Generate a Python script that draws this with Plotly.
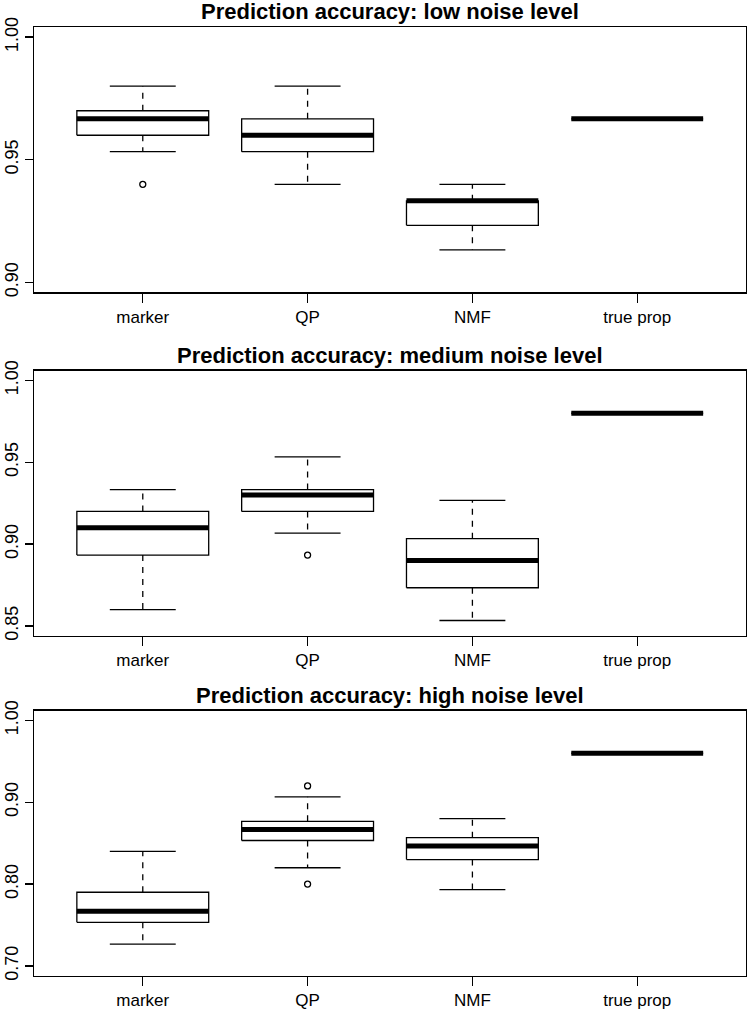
import plotly.graph_objects as go

categories = ["marker", "QP", "NMF", "true prop"]

titles = [
    "Prediction accuracy: low noise level",
    "Prediction accuracy: medium noise level",
    "Prediction accuracy: high noise level",
]

# low noise
low_lower = [0.9533, 0.94, 0.9133, 0.9667]
low_q1 = [0.96, 0.9533, 0.9233, 0.9667]
low_median = [0.9667, 0.96, 0.9333, 0.9667]
low_q3 = [0.97, 0.9667, 0.9333, 0.9667]
low_upper = [0.98, 0.98, 0.94, 0.9667]
low_out_x = ["marker"]
low_out_y = [0.94]

# medium noise
med_lower = [0.86, 0.9067, 0.8533, 0.98]
med_q1 = [0.8933, 0.92, 0.8733, 0.98]
med_median = [0.91, 0.93, 0.89, 0.98]
med_q3 = [0.92, 0.9333, 0.9033, 0.98]
med_upper = [0.9333, 0.9533, 0.9267, 0.98]
med_out_x = ["QP"]
med_out_y = [0.8933]

# high noise
high_lower = [0.7267, 0.82, 0.7933, 0.96]
high_q1 = [0.7533, 0.8533, 0.83, 0.96]
high_median = [0.7667, 0.8667, 0.8467, 0.96]
high_q3 = [0.79, 0.8767, 0.8567, 0.96]
high_upper = [0.84, 0.9067, 0.88, 0.96]
high_out_x = ["QP", "QP"]
high_out_y = [0.92, 0.80]

y_ticks = [
    [0.90, 0.95, 1.00],
    [0.85, 0.90, 0.95, 1.00],
    [0.70, 0.80, 0.90, 1.00],
]
y_lims = [(0.90, 1.00), (0.85, 1.00), (0.70, 1.00)]

panels = [
    (low_lower, low_q1, low_median, low_q3, low_upper, low_out_x, low_out_y),
    (med_lower, med_q1, med_median, med_q3, med_upper, med_out_x, med_out_y),
    (high_lower, high_q1, high_median, high_q3, high_upper, high_out_x, high_out_y),
]

W, H = 750, 1010
plot_left, plot_right = 34, 746
panel_tops = [27.3, 370.7, 710.7]
panel_h = 265

FONT = "Liberation Sans, Arial, Helvetica, sans-serif"
BW = 0.4   # half box width
CW = 0.2   # half cap width

fig = go.Figure()
annotations = []

for p, (lo, q1, md, q3, up, ox, oy) in enumerate(panels):
    sfx = "" if p == 0 else str(p + 1)
    xr, yr = "x" + sfx, "y" + sfx
    pos = {c: i + 1 for i, c in enumerate(categories)}

    wx, wy, cx, cy, bx, by, mx, my = [], [], [], [], [], [], [], []
    for i, c in enumerate(categories):
        xc = pos[c]
        wx += [xc, xc, None, xc, xc, None]
        wy += [q3[i], up[i], None, q1[i], lo[i], None]
        cx += [xc - CW, xc + CW, None, xc - CW, xc + CW, None]
        cy += [up[i], up[i], None, lo[i], lo[i], None]
        bx += [xc - BW, xc + BW, xc + BW, xc - BW, xc - BW, None]
        by += [q1[i], q1[i], q3[i], q3[i], q1[i], None]
        mx += [xc - BW, xc + BW, None]
        my += [md[i], md[i], None]

    fig.add_trace(go.Scatter(x=wx, y=wy, mode="lines", xaxis=xr, yaxis=yr,
                             line=dict(color="black", width=1.3, dash="6px,6px"),
                             showlegend=False, hoverinfo="skip"))
    fig.add_trace(go.Scatter(x=cx, y=cy, mode="lines", xaxis=xr, yaxis=yr,
                             line=dict(color="black", width=1.3),
                             showlegend=False, hoverinfo="skip"))
    fig.add_trace(go.Scatter(x=bx, y=by, mode="lines", xaxis=xr, yaxis=yr,
                             line=dict(color="black", width=1.3),
                             showlegend=False, hoverinfo="skip"))
    fig.add_trace(go.Scatter(x=mx, y=my, mode="lines", xaxis=xr, yaxis=yr,
                             line=dict(color="black", width=5),
                             showlegend=False, hoverinfo="skip"))
    fig.add_trace(go.Scatter(x=[pos[c] for c in ox], y=oy, mode="markers",
                             xaxis=xr, yaxis=yr,
                             marker=dict(symbol="circle-open", size=6,
                                         color="black", line=dict(width=1.3)),
                             showlegend=False, hoverinfo="skip"))

    lo_l, hi_l = y_lims[p]
    ext = 0.04 * (hi_l - lo_l)
    top = panel_tops[p]
    bot = top + panel_h
    ydom = [1 - bot / H, 1 - top / H]

    fig.layout["xaxis" + sfx] = dict(
        domain=[plot_left / W, plot_right / W], anchor=yr,
        range=[0.5 - 0.04 * 4, 4.5 + 0.04 * 4],
        tickvals=[1, 2, 3, 4], ticktext=categories,
        showline=True, mirror=True, linecolor="black", linewidth=1.3,
        ticks="outside", ticklen=9, tickwidth=1.3, tickcolor="black",
        showgrid=False, zeroline=False, automargin=False,
        tickfont=dict(family=FONT, size=17, color="black"),
    )
    fig.layout["yaxis" + sfx] = dict(
        domain=ydom, anchor=xr,
        range=[lo_l - ext, hi_l + ext],
        tickvals=y_ticks[p], ticktext=["%.2f" % v for v in y_ticks[p]],
        tickangle=-90,
        showline=True, mirror=True, linecolor="black", linewidth=1.3,
        ticks="outside", ticklen=8, tickwidth=1.3, tickcolor="black",
        showgrid=False, zeroline=False, automargin=False,
        tickfont=dict(family=FONT, size=18, color="black"),
    )
    annotations.append(dict(
        text="<b>" + titles[p] + "</b>", xref="paper", yref="paper",
        x=(plot_left + plot_right) / 2 / W, y=1 - (top - 15.5) / H,
        xanchor="center", yanchor="middle", showarrow=False,
        font=dict(family=FONT, size=22, color="black"),
    ))

fig.update_layout(
    width=W, height=H, margin=dict(l=0, r=0, t=0, b=0),
    paper_bgcolor="white", plot_bgcolor="white",
    annotations=annotations, showlegend=False,
)

fig.write_html(
    "out.html",
    config={"displayModeBar": False, "staticPlot": True},
    post_script="document.body.style.margin='0px';document.body.style.overflow='hidden';",
)
